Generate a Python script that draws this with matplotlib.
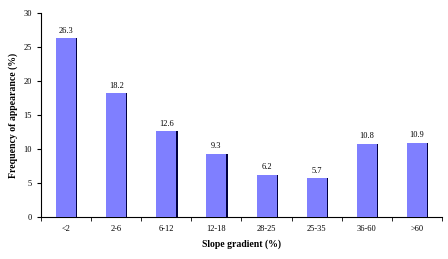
import matplotlib.pyplot as plt
import numpy as np

categories = ['<2', '2-6', '6-12', '12-18', '28-25', '25-35', '36-60', '>60']
values = [26.3, 18.2, 12.6, 9.3, 6.2, 5.7, 10.8, 10.9]

plt.rcParams['font.family'] = ['Liberation Serif', 'DejaVu Serif']

fig = plt.figure(figsize=(4.48, 2.59), dpi=100)
ax = fig.add_axes([0.0915, 0.162, 0.895, 0.788])

x = np.arange(len(categories))
# dark shadow on the right side of each bar
ax.bar(x + 0.025, values, width=0.4, color='#000040', zorder=2)
ax.bar(x, values, width=0.4, color='#7f7fff', zorder=3)

for xi, v in zip(x, values):
    ax.text(xi, v + 0.5, f'{v}', ha='center', va='bottom', fontsize=6)

ax.set_xlim(-0.5, len(categories) - 0.5)
ax.set_ylim(0, 30)
ax.set_yticks(range(0, 31, 5))
ax.set_xticks(x)
ax.set_xticklabels(categories)
ax.set_xticks(np.arange(-0.5, len(categories), 1), minor=True)
ax.tick_params(axis='x', which='major', length=0, labelsize=6, pad=6)
ax.tick_params(axis='x', which='minor', length=3, direction='out')
ax.tick_params(axis='y', labelsize=6, length=3, direction='out')

ax.spines['top'].set_visible(False)
ax.spines['right'].set_visible(False)

ax.set_xlabel('Slope gradient (%)', fontsize=7, fontweight='bold', labelpad=4)
ax.set_ylabel('Frequency of appearance (%)', fontsize=7, fontweight='bold')

fig.savefig('out.png', dpi=100)
